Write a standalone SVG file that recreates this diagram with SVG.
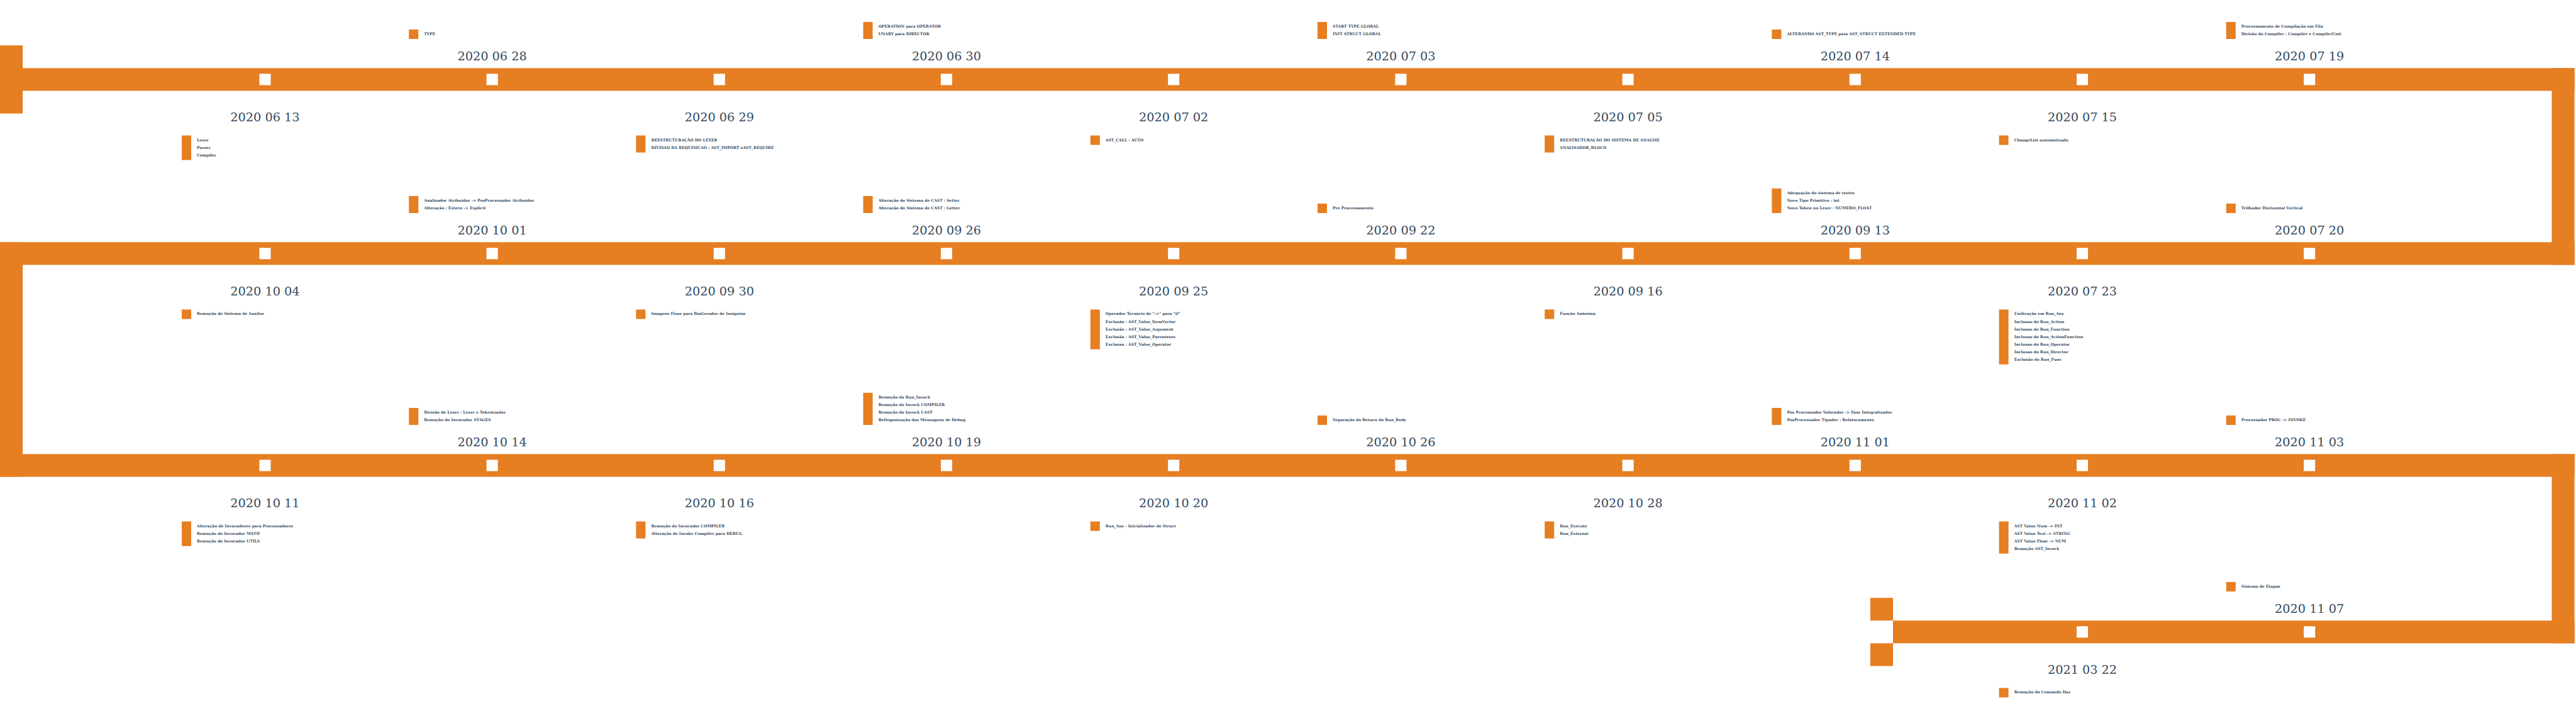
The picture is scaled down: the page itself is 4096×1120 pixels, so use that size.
<svg xmlns="http://www.w3.org/2000/svg" width="4096" height="1120" viewBox="0 0 4096 1120">
<style>
.ln{fill:#E67E22}
.bar{fill:#E67E22}
.sq{fill:#FFFFFF}
.date{font-family:"DejaVu Serif",serif;font-size:19.26px;fill:#34495E;text-anchor:middle}
.lbl{font-family:"DejaVu Serif",serif;font-size:6.02px;font-weight:bold;fill:#34495E}
</style>
<rect x="0" y="0" width="4096" height="1120" fill="#FFFFFF"/>
<g id="connectors">
<rect class="ln" x="0" y="108.36" width="4093.6" height="36.12"/>
<rect class="ln" x="0" y="385.28" width="4093.6" height="36.12"/>
<rect class="ln" x="0" y="722.4" width="4093.6" height="36.12"/>
<rect class="ln" x="3010" y="987.28" width="1083.6" height="36.12"/>
<rect class="ln" x="0" y="72.24" width="36.12" height="108.36"/>
<rect class="ln" x="4057.48" y="108.36" width="36.12" height="313.04"/>
<rect class="ln" x="0" y="385.28" width="36.12" height="373.24"/>
<rect class="ln" x="4057.48" y="722.4" width="36.12" height="301"/>
<rect class="ln" x="2973.88" y="951.16" width="36.12" height="36.12"/>
<rect class="ln" x="2973.88" y="1023.4" width="36.12" height="36.12"/>
</g>

<g id="n-2020-06-13">
<rect class="sq" x="412.37" y="117.39" width="18.06" height="18.06"/>
<text class="date" x="421.4" y="193.24">2020 06 13</text>
<rect class="bar" x="288.96" y="215.52" width="15.05" height="39.13"/>
<text class="lbl"><tspan x="313.04" y="224.55">Lexer</tspan><tspan x="313.04" y="236.59">Parser</tspan><tspan x="313.04" y="248.63">Compiler</tspan></text>
</g>
<g id="n-2020-06-28">
<rect class="sq" x="773.57" y="117.39" width="18.06" height="18.06"/>
<text class="date" x="782.6" y="96.32">2020 06 28</text>
<rect class="bar" x="650.16" y="46.96" width="15.05" height="15.05"/>
<text class="lbl"><tspan x="674.24" y="55.99">TYPE</tspan></text>
</g>
<g id="n-2020-06-29">
<rect class="sq" x="1134.77" y="117.39" width="18.06" height="18.06"/>
<text class="date" x="1143.8" y="193.24">2020 06 29</text>
<rect class="bar" x="1011.36" y="215.52" width="15.05" height="27.09"/>
<text class="lbl"><tspan x="1035.44" y="224.55">REESTRUTURAÇÃO DO LEXER</tspan><tspan x="1035.44" y="236.59">DIVISAO DA REQUISICAO : AST_IMPORT eAST_REQUIRE</tspan></text>
</g>
<g id="n-2020-06-30">
<rect class="sq" x="1495.97" y="117.39" width="18.06" height="18.06"/>
<text class="date" x="1505" y="96.32">2020 06 30</text>
<rect class="bar" x="1372.56" y="34.92" width="15.05" height="27.09"/>
<text class="lbl"><tspan x="1396.64" y="43.95">OPERATION para OPERATOR</tspan><tspan x="1396.64" y="55.99">UNARY para DIRECTOR</tspan></text>
</g>
<g id="n-2020-07-02">
<rect class="sq" x="1857.17" y="117.39" width="18.06" height="18.06"/>
<text class="date" x="1866.2" y="193.24">2020 07 02</text>
<rect class="bar" x="1733.76" y="215.52" width="15.05" height="15.05"/>
<text class="lbl"><tspan x="1757.84" y="224.55">AST_CALL : AUTO</tspan></text>
</g>
<g id="n-2020-07-03">
<rect class="sq" x="2218.37" y="117.39" width="18.06" height="18.06"/>
<text class="date" x="2227.4" y="96.32">2020 07 03</text>
<rect class="bar" x="2094.96" y="34.92" width="15.05" height="27.09"/>
<text class="lbl"><tspan x="2119.04" y="43.95">START TYPE GLOBAL</tspan><tspan x="2119.04" y="55.99">INIT STRUCT GLOBAL</tspan></text>
</g>
<g id="n-2020-07-05">
<rect class="sq" x="2579.57" y="117.39" width="18.06" height="18.06"/>
<text class="date" x="2588.6" y="193.24">2020 07 05</text>
<rect class="bar" x="2456.16" y="215.52" width="15.05" height="27.09"/>
<text class="lbl"><tspan x="2480.24" y="224.55">REESTRUTURAÇÃO DO SISTEMA DE ANALISE</tspan><tspan x="2480.24" y="236.59">ANALISADOR_BLOCO</tspan></text>
</g>
<g id="n-2020-07-14">
<rect class="sq" x="2940.77" y="117.39" width="18.06" height="18.06"/>
<text class="date" x="2949.8" y="96.32">2020 07 14</text>
<rect class="bar" x="2817.36" y="46.96" width="15.05" height="15.05"/>
<text class="lbl"><tspan x="2841.44" y="55.99">ALTERANDO AST_TYPE para AST_STRUCT EXTENDED TYPE</tspan></text>
</g>
<g id="n-2020-07-15">
<rect class="sq" x="3301.97" y="117.39" width="18.06" height="18.06"/>
<text class="date" x="3311" y="193.24">2020 07 15</text>
<rect class="bar" x="3178.56" y="215.52" width="15.05" height="15.05"/>
<text class="lbl"><tspan x="3202.64" y="224.55">ChangeList automatizado</tspan></text>
</g>
<g id="n-2020-07-19">
<rect class="sq" x="3663.17" y="117.39" width="18.06" height="18.06"/>
<text class="date" x="3672.2" y="96.32">2020 07 19</text>
<rect class="bar" x="3539.76" y="34.92" width="15.05" height="27.09"/>
<text class="lbl"><tspan x="3563.84" y="43.95">Processamento de Compilação em Fila</tspan><tspan x="3563.84" y="55.99">Divisão do Compiler : Compiler e CompilerUnit</tspan></text>
</g>

<g id="n-2020-07-20">
<rect class="sq" x="3663.17" y="394.31" width="18.06" height="18.06"/>
<text class="date" x="3672.2" y="373.24">2020 07 20</text>
<rect class="bar" x="3539.76" y="323.88" width="15.05" height="15.05"/>
<text class="lbl"><tspan x="3563.84" y="332.91">Trilhador Horizontal Vertical</tspan></text>
</g>
<g id="n-2020-07-23">
<rect class="sq" x="3301.97" y="394.31" width="18.06" height="18.06"/>
<text class="date" x="3311" y="470.16">2020 07 23</text>
<rect class="bar" x="3178.56" y="492.44" width="15.05" height="87.29"/>
<text class="lbl"><tspan x="3202.64" y="501.47">Unificação em Run_Any</tspan><tspan x="3202.64" y="513.51">Inclusao do Run_Action</tspan><tspan x="3202.64" y="525.55">Inclusao do Run_Function</tspan><tspan x="3202.64" y="537.59">Inclusao do Run_ActionFunction</tspan><tspan x="3202.64" y="549.63">Inclusao do Run_Operator</tspan><tspan x="3202.64" y="561.67">Inclusao do Run_Director</tspan><tspan x="3202.64" y="573.71">Exclusão do Run_Func</tspan></text>
</g>
<g id="n-2020-09-13">
<rect class="sq" x="2940.77" y="394.31" width="18.06" height="18.06"/>
<text class="date" x="2949.8" y="373.24">2020 09 13</text>
<rect class="bar" x="2817.36" y="299.8" width="15.05" height="39.13"/>
<text class="lbl"><tspan x="2841.44" y="308.83">Adequação do sistema de testes</tspan><tspan x="2841.44" y="320.87">Novo Tipo Primitivo : int</tspan><tspan x="2841.44" y="332.91">Novo Token no Lexer : NUMERO_FLOAT</tspan></text>
</g>
<g id="n-2020-09-16">
<rect class="sq" x="2579.57" y="394.31" width="18.06" height="18.06"/>
<text class="date" x="2588.6" y="470.16">2020 09 16</text>
<rect class="bar" x="2456.16" y="492.44" width="15.05" height="15.05"/>
<text class="lbl"><tspan x="2480.24" y="501.47">Função Anônima</tspan></text>
</g>
<g id="n-2020-09-22">
<rect class="sq" x="2218.37" y="394.31" width="18.06" height="18.06"/>
<text class="date" x="2227.4" y="373.24">2020 09 22</text>
<rect class="bar" x="2094.96" y="323.88" width="15.05" height="15.05"/>
<text class="lbl"><tspan x="2119.04" y="332.91">Pre Processamento</tspan></text>
</g>
<g id="n-2020-09-25">
<rect class="sq" x="1857.17" y="394.31" width="18.06" height="18.06"/>
<text class="date" x="1866.2" y="470.16">2020 09 25</text>
<rect class="bar" x="1733.76" y="492.44" width="15.05" height="63.21"/>
<text class="lbl"><tspan x="1757.84" y="501.47">Operador Ternário de "-&gt;" para "if"</tspan><tspan x="1757.84" y="513.51">Exclusão : AST_Value_ItemVector</tspan><tspan x="1757.84" y="525.55">Exclusão : AST_Value_Argument</tspan><tspan x="1757.84" y="537.59">Exclusão : AST_Value_Parenteses</tspan><tspan x="1757.84" y="549.63">Exclusao : AST_Value_Operator</tspan></text>
</g>
<g id="n-2020-09-26">
<rect class="sq" x="1495.97" y="394.31" width="18.06" height="18.06"/>
<text class="date" x="1505" y="373.24">2020 09 26</text>
<rect class="bar" x="1372.56" y="311.84" width="15.05" height="27.09"/>
<text class="lbl"><tspan x="1396.64" y="320.87">Alteração do Sistema de CAST : Setter</tspan><tspan x="1396.64" y="332.91">Alteração do Sistema de CAST : Getter</tspan></text>
</g>
<g id="n-2020-09-30">
<rect class="sq" x="1134.77" y="394.31" width="18.06" height="18.06"/>
<text class="date" x="1143.8" y="470.16">2020 09 30</text>
<rect class="bar" x="1011.36" y="492.44" width="15.05" height="15.05"/>
<text class="lbl"><tspan x="1035.44" y="501.47">Imagens Fixas para BioGerador de Insignias</tspan></text>
</g>
<g id="n-2020-10-01">
<rect class="sq" x="773.57" y="394.31" width="18.06" height="18.06"/>
<text class="date" x="782.6" y="373.24">2020 10 01</text>
<rect class="bar" x="650.16" y="311.84" width="15.05" height="27.09"/>
<text class="lbl"><tspan x="674.24" y="320.87">Analisador Atribuidor -&gt; PosProcessador Atribuidor</tspan><tspan x="674.24" y="332.91">Alteração : Extern -&gt; Explicit</tspan></text>
</g>
<g id="n-2020-10-04">
<rect class="sq" x="412.37" y="394.31" width="18.06" height="18.06"/>
<text class="date" x="421.4" y="470.16">2020 10 04</text>
<rect class="bar" x="288.96" y="492.44" width="15.05" height="15.05"/>
<text class="lbl"><tspan x="313.04" y="501.47">Remoção do Sistema de Analise</tspan></text>
</g>

<g id="n-2020-10-11">
<rect class="sq" x="412.37" y="731.43" width="18.06" height="18.06"/>
<text class="date" x="421.4" y="807.28">2020 10 11</text>
<rect class="bar" x="288.96" y="829.56" width="15.05" height="39.13"/>
<text class="lbl"><tspan x="313.04" y="838.59">Alteração de Invocadores para Processadores</tspan><tspan x="313.04" y="850.63">Remoção do Invocador MATH</tspan><tspan x="313.04" y="862.67">Remoção do Invocador UTILS</tspan></text>
</g>
<g id="n-2020-10-14">
<rect class="sq" x="773.57" y="731.43" width="18.06" height="18.06"/>
<text class="date" x="782.6" y="710.36">2020 10 14</text>
<rect class="bar" x="650.16" y="648.96" width="15.05" height="27.09"/>
<text class="lbl"><tspan x="674.24" y="657.99">Divisão do Lexer : Lexer e Tokenizador</tspan><tspan x="674.24" y="670.03">Remoção do Invocador STAGES</tspan></text>
</g>
<g id="n-2020-10-16">
<rect class="sq" x="1134.77" y="731.43" width="18.06" height="18.06"/>
<text class="date" x="1143.8" y="807.28">2020 10 16</text>
<rect class="bar" x="1011.36" y="829.56" width="15.05" height="27.09"/>
<text class="lbl"><tspan x="1035.44" y="838.59">Remoção do Invocador COMPILER</tspan><tspan x="1035.44" y="850.63">Alteração de Invoke Compiler para DEBUG</tspan></text>
</g>
<g id="n-2020-10-19">
<rect class="sq" x="1495.97" y="731.43" width="18.06" height="18.06"/>
<text class="date" x="1505" y="710.36">2020 10 19</text>
<rect class="bar" x="1372.56" y="624.88" width="15.05" height="51.17"/>
<text class="lbl"><tspan x="1396.64" y="633.91">Remoção do Run_Invock</tspan><tspan x="1396.64" y="645.95">Remoção do Invock COMPILER</tspan><tspan x="1396.64" y="657.99">Remoção do Invock CAST</tspan><tspan x="1396.64" y="670.03">ReOrganização das Mensagens de Debug</tspan></text>
</g>
<g id="n-2020-10-20">
<rect class="sq" x="1857.17" y="731.43" width="18.06" height="18.06"/>
<text class="date" x="1866.2" y="807.28">2020 10 20</text>
<rect class="bar" x="1733.76" y="829.56" width="15.05" height="15.05"/>
<text class="lbl"><tspan x="1757.84" y="838.59">Run_Any - Inicializador de Struct</tspan></text>
</g>
<g id="n-2020-10-26">
<rect class="sq" x="2218.37" y="731.43" width="18.06" height="18.06"/>
<text class="date" x="2227.4" y="710.36">2020 10 26</text>
<rect class="bar" x="2094.96" y="661" width="15.05" height="15.05"/>
<text class="lbl"><tspan x="2119.04" y="670.03">Separação do Return do Run_Body</tspan></text>
</g>
<g id="n-2020-10-28">
<rect class="sq" x="2579.57" y="731.43" width="18.06" height="18.06"/>
<text class="date" x="2588.6" y="807.28">2020 10 28</text>
<rect class="bar" x="2456.16" y="829.56" width="15.05" height="27.09"/>
<text class="lbl"><tspan x="2480.24" y="838.59">Run_Execute</tspan><tspan x="2480.24" y="850.63">Run_External</tspan></text>
</g>
<g id="n-2020-11-01">
<rect class="sq" x="2940.77" y="731.43" width="18.06" height="18.06"/>
<text class="date" x="2949.8" y="710.36">2020 11 01</text>
<rect class="bar" x="2817.36" y="648.96" width="15.05" height="27.09"/>
<text class="lbl"><tspan x="2841.44" y="657.99">Pos Processador Valorador -&gt; Fase Integralizador</tspan><tspan x="2841.44" y="670.03">PosProcessador Tipador : Refatoramento</tspan></text>
</g>
<g id="n-2020-11-02">
<rect class="sq" x="3301.97" y="731.43" width="18.06" height="18.06"/>
<text class="date" x="3311" y="807.28">2020 11 02</text>
<rect class="bar" x="3178.56" y="829.56" width="15.05" height="51.17"/>
<text class="lbl"><tspan x="3202.64" y="838.59">AST Value Num -&gt; INT</tspan><tspan x="3202.64" y="850.63">AST Value Text -&gt; STRING</tspan><tspan x="3202.64" y="862.67">AST Value Float -&gt; NUM</tspan><tspan x="3202.64" y="874.71">Remoção AST_Invock</tspan></text>
</g>
<g id="n-2020-11-03">
<rect class="sq" x="3663.17" y="731.43" width="18.06" height="18.06"/>
<text class="date" x="3672.2" y="710.36">2020 11 03</text>
<rect class="bar" x="3539.76" y="661" width="15.05" height="15.05"/>
<text class="lbl"><tspan x="3563.84" y="670.03">Processador PROC -&gt; INVOKE</tspan></text>
</g>

<g id="n-2020-11-07">
<rect class="sq" x="3663.17" y="996.31" width="18.06" height="18.06"/>
<text class="date" x="3672.2" y="975.24">2020 11 07</text>
<rect class="bar" x="3539.76" y="925.88" width="15.05" height="15.05"/>
<text class="lbl"><tspan x="3563.84" y="934.91">Sistema de Etapas</tspan></text>
</g>
<g id="n-2021-03-22">
<rect class="sq" x="3301.97" y="996.31" width="18.06" height="18.06"/>
<text class="date" x="3311" y="1072.16">2021 03 22</text>
<rect class="bar" x="3178.56" y="1094.44" width="15.05" height="15.05"/>
<text class="lbl"><tspan x="3202.64" y="1103.47">Remoção do Comando Daz</tspan></text>
</g>
</svg>
